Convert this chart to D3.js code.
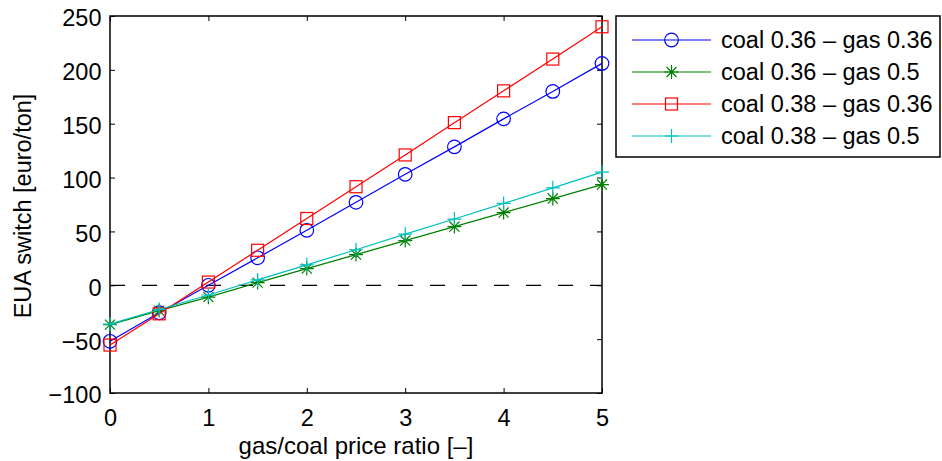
<!DOCTYPE html>
<html><head><meta charset="utf-8">
<script src="https://cdn.jsdelivr.net/npm/d3@7"></script>
<style>
html,body{margin:0;padding:0;background:#fff;}
svg{display:block;font-family:"Liberation Sans",Arial,Helvetica,sans-serif;}
</style></head>
<body>
<svg id="chart" width="942" height="461"></svg>
<script>
const ratios = [0, 0.5, 1, 1.5, 2, 2.5, 3, 3.5, 4, 4.5, 5];
const coal036gas036 = [-52, -25.5, 0, 25.5, 51, 77, 103, 128.5, 154.5, 180, 206];
const coal036gas05 = [-36.5, -23.5, -11, 2.5, 15.5, 28.5, 41.5, 54.5, 67.5, 80.5, 93.5];
const coal038gas036 = [-55.5, -26.5, 3, 32.5, 62, 91.5, 121, 151, 180.5, 210, 240];
const coal038gas05 = [-36, -22.5, -9, 5, 19, 33, 47.5, 61.5, 76, 90.5, 105];
const seriesNames = ["coal 0.36 \u2013 gas 0.36", "coal 0.36 \u2013 gas 0.5", "coal 0.38 \u2013 gas 0.36", "coal 0.38 \u2013 gas 0.5"];
const xTicks = [0, 1, 2, 3, 4, 5];
const yTicks = [-100, -50, 0, 50, 100, 150, 200, 250];

const series = [
  {name: seriesNames[0], values: coal036gas036, color: "#0000ff", marker: "circle"},
  {name: seriesNames[1], values: coal036gas05, color: "#008000", marker: "star"},
  {name: seriesNames[2], values: coal038gas036, color: "#ff0000", marker: "square"},
  {name: seriesNames[3], values: coal038gas05, color: "#00bfbf", marker: "plus"}
];

const svg = d3.select("#chart");
const L = 110, R = 602, T = 16, B = 393;
const x = d3.scaleLinear().domain([0, 5]).range([L, R]);
const y = d3.scaleLinear().domain([-100, 250]).range([B, T]);

const fs = 23.5;
// zero dashed line
svg.append("line").attr("x1", x(0)).attr("x2", x(5)).attr("y1", y(0)).attr("y2", y(0))
  .attr("stroke", "#000").attr("stroke-width", 1.2).attr("stroke-dasharray", "15,17");

// axes
const tl = 5;
const gB = svg.append("g").attr("transform", `translate(0,${B})`)
  .call(d3.axisBottom(x).tickValues(xTicks).tickSize(-tl).tickPadding(16.5).tickFormat(d3.format("d")));
const gT = svg.append("g").attr("transform", `translate(0,${T})`)
  .call(d3.axisTop(x).tickValues(xTicks).tickSize(-tl).tickFormat(""));
const gL = svg.append("g").attr("transform", `translate(${L},0)`)
  .call(d3.axisLeft(y).tickValues(yTicks).tickSize(-tl).tickPadding(8.5).tickFormat(d => d < 0 ? "\u2212" + Math.abs(d) : d));
const gR = svg.append("g").attr("transform", `translate(${R},0)`)
  .call(d3.axisRight(y).tickValues(yTicks).tickSize(-tl).tickFormat(""));
[gB, gT, gL, gR].forEach(g => {
  g.select(".domain").remove();
  g.selectAll(".tick line").attr("stroke", "#000").attr("stroke-width", 1);
  g.selectAll("text").attr("font-size", fs).attr("fill", "#000").style("font-family", "Liberation Sans, Arial, sans-serif");
});
gL.selectAll("text").attr("dy", "0.42em");
svg.append("rect").attr("x", L).attr("y", T).attr("width", R - L).attr("height", B - T)
  .attr("fill", "none").attr("stroke", "#000").attr("stroke-width", 1.5);

// lines and markers
const line = d3.line().x((d, i) => x(ratios[i])).y(d => y(d));
function drawMarker(g, type, cx, cy, color) {
  if (type === "circle") {
    g.append("circle").attr("cx", cx).attr("cy", cy).attr("r", 6.8).attr("fill", "none").attr("stroke", color).attr("stroke-width", 1.2);
  } else if (type === "square") {
    g.append("rect").attr("x", cx - 6).attr("y", cy - 6).attr("width", 12).attr("height", 12).attr("fill", "none").attr("stroke", color).attr("stroke-width", 1.2);
  } else if (type === "plus") {
    const s = 7;
    g.append("path").attr("d", `M${cx - s},${cy}H${cx + s}M${cx},${cy - s}V${cy + s}`).attr("stroke", color).attr("stroke-width", 1.2).attr("fill", "none");
  } else if (type === "star") {
    const s = 7, d = s * 0.72;
    g.append("path").attr("d", `M${cx - s},${cy}H${cx + s}M${cx},${cy - s}V${cy + s}M${cx - d},${cy - d}L${cx + d},${cy + d}M${cx - d},${cy + d}L${cx + d},${cy - d}`)
      .attr("stroke", color).attr("stroke-width", 1.2).attr("fill", "none");
  }
}
series.forEach(s => {
  const g = svg.append("g");
  g.append("path").datum(s.values).attr("d", line).attr("fill", "none").attr("stroke", s.color).attr("stroke-width", 1.2);
  s.values.forEach((v, i) => drawMarker(g, s.marker, x(ratios[i]), y(v), s.color));
});

// axis labels
svg.append("text").attr("x", 356).attr("y", 454).attr("text-anchor", "middle")
  .attr("font-size", 24).text("gas/coal price ratio [\u2013]");
svg.append("text").attr("transform", `translate(31,206) rotate(-90)`).attr("text-anchor", "middle")
  .attr("font-size", fs).text("EUA switch [euro/ton]");

// legend
const lg = svg.append("g");
lg.append("rect").attr("x", 616).attr("y", 16).attr("width", 324).attr("height", 141)
  .attr("fill", "#fff").attr("stroke", "#000").attr("stroke-width", 1.5);
series.forEach((s, i) => {
  const cy = 40 + i * 32;
  lg.append("line").attr("x1", 632).attr("x2", 711).attr("y1", cy).attr("y2", cy).attr("stroke", s.color).attr("stroke-width", 1.2);
  drawMarker(lg, s.marker, 671.5, cy, s.color);
  lg.append("text").attr("x", 721).attr("y", cy).attr("dy", "0.35em").attr("font-size", fs).text(s.name);
});
</script>
</body></html>
